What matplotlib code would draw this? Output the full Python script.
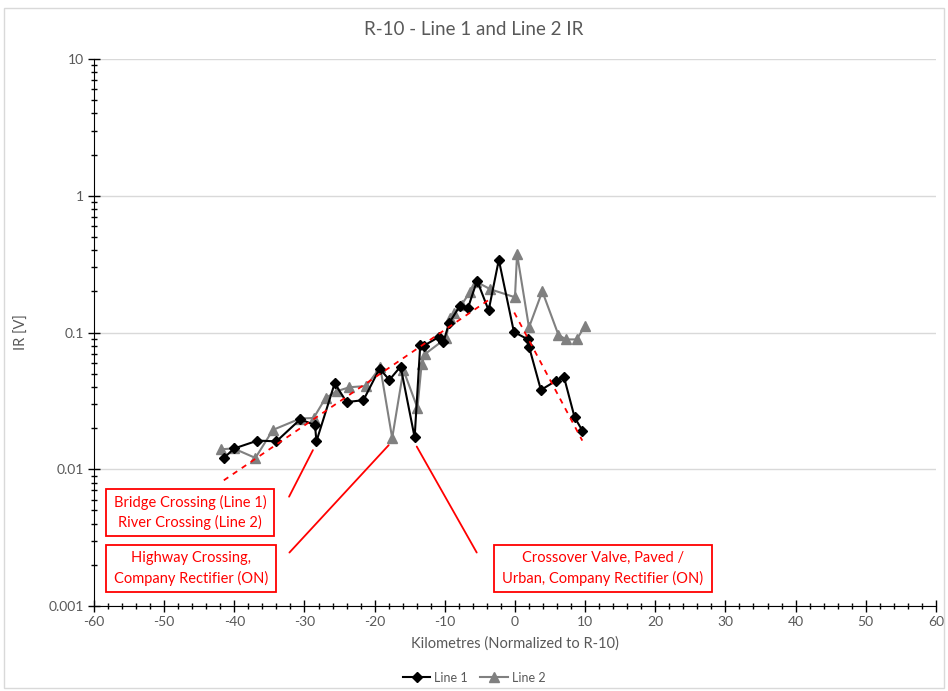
import numpy as np
import matplotlib
matplotlib.use("Agg")
import matplotlib.pyplot as plt
from matplotlib.patches import Rectangle
from matplotlib.ticker import FixedLocator, FixedFormatter, MultipleLocator

# IR readings along each line, km relative to R-10
line1_km = [-41.5, -40.0, -36.7, -34.0, -30.6, -28.5, -28.3, -25.7, -24.0, -21.6,
            -19.3, -17.9, -16.3, -14.3, -13.5, -13.0, -10.8, -10.2, -9.4, -7.9,
            -6.7, -5.4, -3.75, -2.3, -0.15, 1.85, 2.0, 3.7, 5.9, 7.0, 8.5, 9.6]
line1_ir = [0.0121, 0.0142, 0.0162, 0.0160, 0.0232, 0.0210, 0.0160, 0.0425, 0.0310, 0.0320,
            0.0545, 0.0450, 0.0564, 0.0171, 0.0810, 0.0800, 0.0930, 0.0850, 0.117, 0.155,
            0.151, 0.240, 0.145, 0.340, 0.101, 0.089, 0.079, 0.038, 0.0445, 0.047, 0.024, 0.0192]

line2_km = [-41.9, -40.1, -37.0, -34.5, -30.6, -28.7, -27.0, -25.4, -23.6, -21.2,
            -19.2, -17.5, -15.9, -13.9, -13.3, -12.8, -9.8, -9.3, -8.7, -7.6,
            -6.4, -5.5, -3.5, 0.0, 0.3, 2.0, 3.9, 6.2, 7.3, 8.8, 10.0]
line2_ir = [0.0140, 0.0142, 0.0121, 0.0194, 0.0235, 0.0237, 0.0332, 0.0372, 0.0398, 0.0406,
            0.0557, 0.0169, 0.0532, 0.0281, 0.0590, 0.0697, 0.0910, 0.128, 0.138, 0.160,
            0.198, 0.235, 0.207, 0.181, 0.375, 0.109, 0.200, 0.096, 0.089, 0.089, 0.112]

# exponential trends (straight in log space)
trend_up_km = [-41.5, -3.6]
trend_up_ir = [0.0083, 0.175]
trend_down_km = [-0.1, 9.6]
trend_down_ir = [0.140, 0.0162]

y_ticks = [0.001, 0.01, 0.1, 1, 10]
y_labels = ["0.001", "0.01", "0.1", "1", "10"]

notes = [
    ("Bridge Crossing (Line 1)\nRiver Crossing (Line 2)", (0.0143, 0.128, 0.1995, 0.0864),
     (-32.2, 0.0063), (-28.8, 0.0138)),
    ("Highway Crossing,\nCompany Rectifier (ON)", (0.0143, 0.0256, 0.2018, 0.0859),
     (-32.15, 0.00246), (-18.0, 0.0150)),
    ("Crossover Valve, Paved /\nUrban, Company Rectifier (ON)", (0.475, 0.0256, 0.259, 0.0868),
     (-5.45, 0.00246), (-14.0, 0.01466)),
]

plt.rcParams['font.family'] = ['Lato', 'DejaVu Sans']
plt.rcParams['axes.unicode_minus'] = False
txt_gray = '#595959'

fig = plt.figure(figsize=(9.48, 6.91), dpi=100)
fig.patches.append(Rectangle((0.004, 0.004), 0.992, 0.984, transform=fig.transFigure,
                             fill=False, edgecolor='#d9d9d9', linewidth=1))
ax = fig.add_axes([0.0992, 0.123, 0.888, 0.7916])

ax.plot(line1_km, line1_ir, color='black', lw=1.5, marker='D', ms=5, label='Line 1', zorder=4)
ax.plot(line2_km, line2_ir, color='#808080', lw=1.5, marker='^', ms=6.5, label='Line 2', zorder=3)
ax.plot(trend_up_km, trend_up_ir, color='#ff0000', lw=1.3, ls=(0, (3, 3)), zorder=5)
ax.plot(trend_down_km, trend_down_ir, color='#ff0000', lw=1.3, ls=(0, (3, 3)), zorder=5)

ax.set_yscale('log')
ax.set_xlim(-60, 60)
ax.set_ylim(0.001, 10)
ax.xaxis.set_major_locator(MultipleLocator(10))
ax.xaxis.set_minor_locator(MultipleLocator(2))
ax.yaxis.set_major_locator(FixedLocator(y_ticks))
ax.yaxis.set_major_formatter(FixedFormatter(y_labels))
ax.tick_params(which='major', direction='inout', length=8, width=1, colors='black',
               labelcolor=txt_gray, labelsize=10)
ax.tick_params(which='minor', direction='inout', length=5, width=1, colors='black')
ax.tick_params(axis='y', which='minor', labelleft=False)
ax.grid(True, which='major', axis='y', color='#d9d9d9', lw=1)
ax.set_axisbelow(True)
for s in ['top', 'right']:
    ax.spines[s].set_visible(False)
for s in ['left', 'bottom']:
    ax.spines[s].set_color('black')

ax.set_xlabel('Kilometres (Normalized to R-10)', color=txt_gray, fontsize=10.5, labelpad=6)
ax.set_ylabel('IR [V]', color=txt_gray, fontsize=10.5, labelpad=14)
fig.text(0.5, 0.957, 'R-10 - Line 1 and Line 2 IR', ha='center', va='center',
         fontsize=13.5, color=txt_gray)

for label, (bx, by, bw, bh), p0, p1 in notes:
    ax.add_patch(Rectangle((bx, by), bw, bh, transform=ax.transAxes, fill=False,
                           edgecolor='#ff0000', lw=1.3, zorder=6))
    ax.text(bx + bw / 2, by + bh / 2, label, transform=ax.transAxes, ha='center', va='center',
            color='#ff0000', fontsize=10.5, linespacing=1.45, zorder=6)
    ax.annotate('', xy=p1, xytext=p0,
                arrowprops=dict(arrowstyle='-', color='#ff0000', lw=1.3, shrinkA=0, shrinkB=0))

fig.legend(loc='center', bbox_to_anchor=(0.5, 0.019), ncol=2, frameon=False, fontsize=9,
           labelcolor=txt_gray, handlelength=2.2, columnspacing=1.0, handletextpad=0.3)

fig.savefig('out.png', dpi=100)
